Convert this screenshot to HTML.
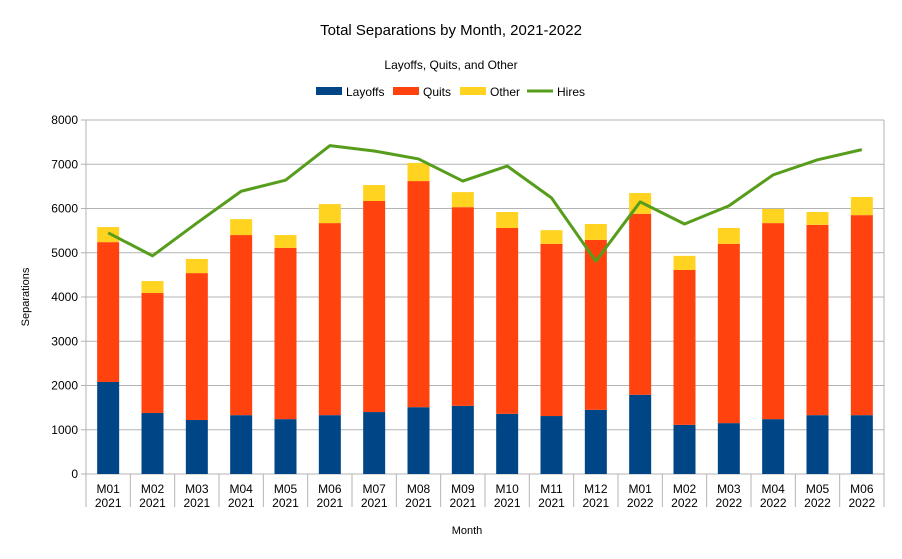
<!DOCTYPE html>
<html><head><meta charset="utf-8"><style>
body{margin:0;background:#fff;font-family:"Liberation Sans",sans-serif;}
svg text{font-family:"Liberation Sans",sans-serif;fill:#000;}
</style></head><body>
<svg id="c" width="902" height="554">
<rect width="902" height="554" fill="#fff"/>
<text x="451" y="35" font-size="15" text-anchor="middle">Total Separations by Month, 2021-2022</text>
<text x="451" y="69" font-size="12" text-anchor="middle">Layoffs, Quits, and Other</text>
<g font-size="12">
<rect x="316" y="87" width="26" height="8" fill="#004586"/><text x="346" y="96">Layoffs</text>
<rect x="393" y="87" width="26" height="8" fill="#ff420e"/><text x="423" y="96">Quits</text>
<rect x="460" y="87" width="26" height="8" fill="#ffd320"/><text x="490" y="96">Other</text>
<line x1="527" y1="91" x2="553" y2="91" stroke="#579d1c" stroke-width="3"/><text x="557" y="96">Hires</text>
</g>
<text transform="translate(29,297) rotate(-90)" font-size="11" text-anchor="middle">Separations</text>
<text x="467" y="534" font-size="11" text-anchor="middle">Month</text>
<g id="g"></g>
</svg>
<script>
const months=["M01","M02","M03","M04","M05","M06","M07","M08","M09","M10","M11","M12","M01","M02","M03","M04","M05","M06"];
const years=["2021","2021","2021","2021","2021","2021","2021","2021","2021","2021","2021","2021","2022","2022","2022","2022","2022","2022"];
const layoffs=[2080,1380,1220,1330,1240,1330,1400,1510,1540,1360,1310,1450,1790,1110,1150,1240,1330,1330];
const quits=[3160,2710,3320,4070,3870,4340,4770,5110,4490,4200,3890,3840,4090,3500,4050,4430,4300,4520];
const other=[340,270,320,360,290,430,360,410,340,360,310,360,470,320,360,320,290,410];
const hires=[5450,4930,5670,6390,6640,7420,7300,7120,6620,6960,6240,4810,6150,5650,6060,6760,7100,7330];
const yTicks=[0,1000,2000,3000,4000,5000,6000,7000,8000];
const X0=86,X1=884,Y0=474,Y1=120,YMAX=8000;
const ns="http://www.w3.org/2000/svg",g=document.getElementById("g");
const y=v=>Y0-(v/YMAX)*(Y0-Y1);
const bw=(X1-X0)/months.length;
const xc=i=>X0+bw*(i+0.5);
function mk(t,a){const e=document.createElementNS(ns,t);for(const k in a)e.setAttribute(k,a[k]);g.appendChild(e);return e;}
yTicks.forEach(v=>{
 const l=mk("line",{x1:X0-5,x2:X1,y1:y(v),y2:y(v),stroke:"#b3b3b3"});
 
 
 const t=mk("text",{x:X0-8,y:y(v)+4,"font-size":12,"text-anchor":"end"});t.textContent=v;
 
 
});
mk("line",{x1:X0,x2:X0,y1:Y1,y2:Y0,stroke:"#b3b3b3"});
mk("line",{x1:X1,x2:X1,y1:Y1,y2:Y0,stroke:"#b3b3b3"});
for(let i=0;i<=months.length;i++){mk("line",{x1:X0+bw*i,x2:X0+bw*i,y1:Y0,y2:Y0+33,stroke:"#b3b3b3"});}
months.forEach((m,i)=>{
 const x=xc(i)-11;let base=0;
 [[layoffs,"#004586","bar-layoffs"],[quits,"#ff420e","bar-quits"],[other,"#ffd320","bar-other"]].forEach(([arr,c,n])=>{
  const r=mk("rect",{x:x,width:22,y:y(base+arr[i]),height:y(base)-y(base+arr[i]),fill:c});
  
  
  base+=arr[i];
 });
 const t1=mk("text",{x:xc(i),y:493,"font-size":12,"text-anchor":"middle"});t1.textContent=m;
 
 
 const t2=mk("text",{x:xc(i),y:507,"font-size":12,"text-anchor":"middle"});t2.textContent=years[i];
 
 
});
const p=mk("polyline",{points:hires.map((v,i)=>xc(i)+","+y(v)).join(" "),fill:"none",stroke:"#579d1c","stroke-width":3,"stroke-linejoin":"round"});


</script>
</body></html>
